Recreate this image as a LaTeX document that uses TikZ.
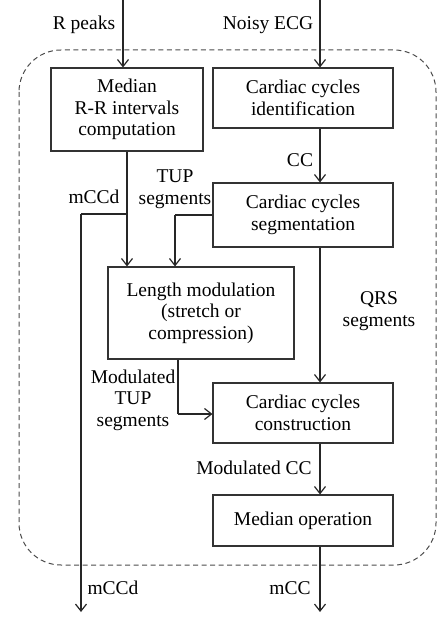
\documentclass[tikz,border=0pt]{standalone}
\usepackage{fontspec}
\setmainfont{Liberation Serif}
\usetikzlibrary{arrows.meta}
\begin{document}
\begin{tikzpicture}[x=1pt,y=-1pt,
  font=\fontsize{19.5}{21.5}\selectfont,
  box/.style={draw=black!80,line width=1.1pt,align=center,inner sep=0pt},
  lbl/.style={align=center,inner sep=0pt},
  arr/.style={draw=black!85,line width=1.2pt,-{Straight Barb[length=7pt,width=11pt,line width=1.2pt]}},
  ln/.style={draw=black!85,line width=1.2pt}]
\useasboundingbox (0,0) rectangle (437,617);
\draw[dash pattern=on 5pt off 3.5pt,line width=1pt,black!70,rounded corners=42pt] (19,50) rectangle (436,565);
% boxes
\node[box,minimum width=152pt,minimum height=83pt] (med) at (127,109.5) {Median\\R-R intervals\\computation};
\node[box,minimum width=180pt,minimum height=60pt] (cid) at (303,98) {Cardiac cycles\\identification};
\node[box,minimum width=180pt,minimum height=64pt] (seg) at (303,215) {Cardiac cycles\\segmentation};
\node[box,minimum width=186pt,minimum height=92pt] (len) at (201,313) {Length modulation\\(stretch or\\compression)};
\node[box,minimum width=180pt,minimum height=60pt] (con) at (303,413) {Cardiac cycles\\construction};
\node[box,minimum width=180pt,minimum height=51pt] (mop) at (303,520.5) {Median operation};
% coordinates
\coordinate (rp) at (123,0);
\coordinate (ne) at (320,0);
\coordinate (br) at (127,214);
\coordinate (bl) at (81,214);
\coordinate (outd) at (81,612);
\coordinate (tup) at (175,215);
\coordinate (mt) at (178,414);
\coordinate (outc) at (320,612);
% connectors
\draw[arr] (rp) -- (rp |- med.north);
\draw[arr] (ne) -- (ne |- cid.north);
\draw[arr] (ne |- cid.south) -- (ne |- seg.north);
\draw[arr] (br |- med.south) -- (br |- len.north);
\draw[ln] (br) -- (bl);
\draw[arr] (bl) -- (outd);
\draw[ln] (seg.west |- tup) -- (tup);
\draw[arr] (tup) -- (tup |- len.north);
\draw[arr] (ne |- seg.south) -- (ne |- con.north);
\draw[ln] (mt |- len.south) -- (mt);
\draw[arr] (mt) -- (mt -| con.west);
\draw[arr] (ne |- con.south) -- (ne |- mop.north);
\draw[arr] (ne |- mop.south) -- (outc);
% labels
\node[lbl] (l1) at (84,25) {R peaks};
\node[lbl] (l2) at (268,25) {Noisy ECG};
\node[lbl] (l3) at (300,160) {CC};
\node[lbl] (l4) at (94,197) {mCCd};
\node[lbl] (l5) at (175,189) {TUP\\segments};
\node[lbl] (l6) at (379,311) {QRS\\segments};
\node[lbl] (l7) at (133,400) {Modulated\\TUP\\segments};
\node[lbl] (l8) at (254,468) {Modulated CC};
\node[lbl] (l9) at (113,588) {mCCd};
\node[lbl] (l10) at (290,588) {mCC};
\end{tikzpicture}
\end{document}
